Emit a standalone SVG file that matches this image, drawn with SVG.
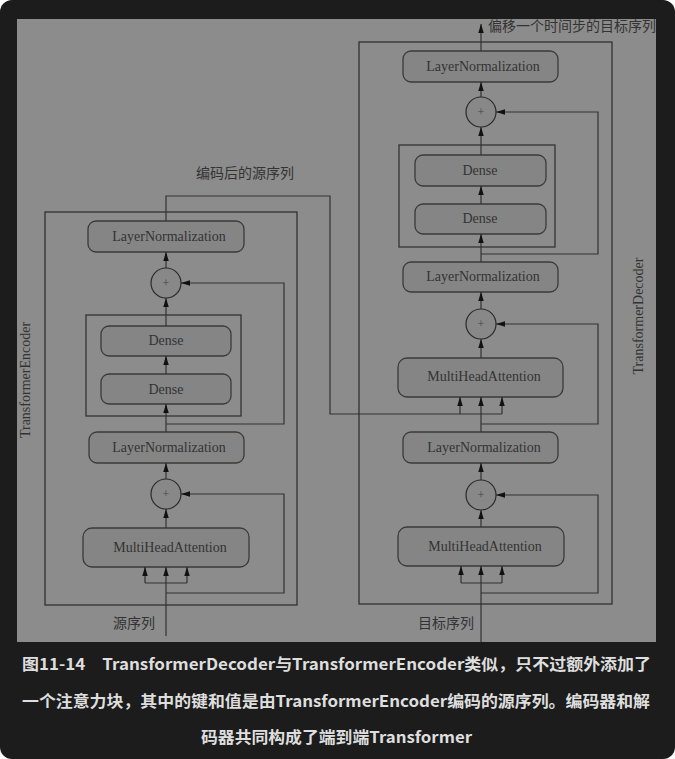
<svg xmlns="http://www.w3.org/2000/svg" width="675" height="759" viewBox="0 0 675 759">
<defs>
<marker id="ah" markerUnits="userSpaceOnUse" markerWidth="10" markerHeight="6" refX="9" refY="2.75" orient="auto">
<path d="M0,0 L9,2.75 L0,5.5 z" fill="#111"/>
</marker>
<style>
.box{fill:none;stroke:#2a2a2a;stroke-width:1.2}
.grp{fill:none;stroke:#333;stroke-width:1.3}
.node{fill:#858585;stroke:#3a3a3a;stroke-width:1.3}
.circ{fill:#888;stroke:#2a2a2a;stroke-width:1.2}
.nt{font-family:"Liberation Serif",serif;font-size:14px;fill:#333;text-anchor:middle}
.pl{font-family:"Liberation Serif",serif;font-size:12px;fill:#444;text-anchor:middle}
.lbl{font-family:"Liberation Serif","Noto Sans CJK SC",serif;font-size:14px;fill:#333}
.cap{font-family:"Noto Sans CJK SC",sans-serif;font-size:16px;font-weight:bold;fill:#dedede}
.cn path{fill:none;stroke:#333;stroke-width:1.2}
.cn .a{marker-end:url(#ah)}
</style>
</defs>
<rect x="0" y="0" width="675" height="759" fill="#ffffff"/>
<rect x="0" y="0" width="675" height="759" rx="12" fill="#1c1c1c"/>
<rect x="17" y="19" width="639" height="623" fill="#8c8c8c"/>

<g id="encoder">
<rect class="box" x="45" y="212" width="252" height="393"/>
<text class="nt" transform="translate(30,380) rotate(-90)">TransformerEncoder</text>
</g>
<g id="decoder">
<rect class="box" x="359" y="42" width="253" height="562"/>
<text class="nt" transform="translate(643,316) rotate(-90)">TransformerDecoder</text>
</g>

<g id="enc-ffn"><rect class="grp" x="86" y="315" width="155" height="101"/></g>
<g id="dec-ffn"><rect class="grp" x="399" y="145" width="156" height="102"/></g>

<g id="enc-mha"><rect class="node" x="83" y="528" width="166" height="39" rx="9"/><text class="nt" x="170" y="552">MultiHeadAttention</text></g>
<g id="enc-add1"><circle class="circ" cx="166" cy="494" r="15"/><text class="pl" x="166" y="498">+</text></g>
<g id="enc-ln1"><rect class="node" x="89" y="432" width="155" height="31" rx="8"/><text class="nt" x="169" y="452">LayerNormalization</text></g>
<g id="enc-dense1"><rect class="node" x="101" y="374" width="130" height="30" rx="8"/><text class="nt" x="166" y="394">Dense</text></g>
<g id="enc-dense2"><rect class="node" x="101" y="326" width="130" height="30" rx="8"/><text class="nt" x="166" y="345">Dense</text></g>
<g id="enc-add2"><circle class="circ" cx="166" cy="283" r="15"/><text class="pl" x="166" y="287">+</text></g>
<g id="enc-ln2"><rect class="node" x="88" y="221" width="156" height="31" rx="8"/><text class="nt" x="169" y="241">LayerNormalization</text></g>

<g id="dec-mha1"><rect class="node" x="398" y="527" width="166" height="39" rx="9"/><text class="nt" x="485" y="551">MultiHeadAttention</text></g>
<g id="dec-add1"><circle class="circ" cx="481" cy="495" r="15"/><text class="pl" x="481" y="499">+</text></g>
<g id="dec-ln1"><rect class="node" x="403" y="432" width="155" height="31" rx="8"/><text class="nt" x="484" y="452">LayerNormalization</text></g>
<g id="dec-mha2"><rect class="node" x="398" y="358" width="165" height="39" rx="9"/><text class="nt" x="484" y="381">MultiHeadAttention</text></g>
<g id="dec-add2"><circle class="circ" cx="481" cy="324" r="15"/><text class="pl" x="481" y="328">+</text></g>
<g id="dec-ln2"><rect class="node" x="403" y="262" width="155" height="30" rx="8"/><text class="nt" x="483" y="281">LayerNormalization</text></g>
<g id="dec-dense1"><rect class="node" x="415" y="204" width="131" height="30" rx="8"/><text class="nt" x="480" y="223">Dense</text></g>
<g id="dec-dense2"><rect class="node" x="415" y="155" width="131" height="31" rx="8"/><text class="nt" x="480" y="175">Dense</text></g>
<g id="dec-add3"><circle class="circ" cx="481" cy="112" r="15"/><text class="pl" x="481" y="116">+</text></g>
<g id="dec-ln3"><rect class="node" x="403" y="51" width="155" height="31" rx="8"/><text class="nt" x="483" y="71">LayerNormalization</text></g>

<g id="labels">
<text class="lbl" x="113" y="628">源序列</text>
<text class="lbl" x="418" y="628">目标序列</text>
<text class="lbl" x="196" y="178">编码后的源序列</text>
<text class="lbl" x="488" y="31">偏移一个时间步的目标序列</text>
</g>

<g class="cn" id="connectors">
<path class="a" d="M166,636 V567"/>
<path d="M145,583 H187"/>
<path class="a" d="M145,583 V567"/>
<path class="a" d="M187,583 V567"/>
<path class="a" d="M166,593 H284 V494 H181"/>
<path class="a" d="M166,528 V509"/>
<path class="a" d="M166,479 V463"/>
<path class="a" d="M166,432 V404"/>
<path class="a" d="M166,424 H284 V283 H181"/>
<path class="a" d="M166,374 V356"/>
<path class="a" d="M166,326 V298"/>
<path class="a" d="M166,268 V252"/>
<path d="M166,221 V196 H330 V414 H502"/>
<path class="a" d="M460,414 V397"/>
<path class="a" d="M502,414 V397"/>

<path class="a" d="M481,642 V566"/>
<path d="M461,583 H502"/>
<path class="a" d="M461,583 V566"/>
<path class="a" d="M502,583 V566"/>
<path class="a" d="M481,593 H598 V495 H496"/>
<path class="a" d="M481,527 V510"/>
<path class="a" d="M481,480 V463"/>
<path class="a" d="M481,432 V397"/>
<path class="a" d="M481,424 H598 V324 H496"/>
<path class="a" d="M481,358 V339"/>
<path class="a" d="M481,309 V292"/>
<path class="a" d="M481,262 V234"/>
<path class="a" d="M481,254 H598 V112 H496"/>
<path class="a" d="M481,204 V186"/>
<path class="a" d="M481,155 V127"/>
<path class="a" d="M481,97 V82"/>
<path class="a" d="M481,51 V24"/>
</g>

<g id="caption">
<text class="cap" x="22" y="670" textLength="629" lengthAdjust="spacingAndGlyphs">图11-14　TransformerDecoder与TransformerEncoder类似，只不过额外添加了</text>
<text class="cap" x="22" y="707" textLength="628" lengthAdjust="spacingAndGlyphs">一个注意力块，其中的键和值是由TransformerEncoder编码的源序列。编码器和解</text>
<text class="cap" x="201" y="743" textLength="271" lengthAdjust="spacingAndGlyphs">码器共同构成了端到端Transformer</text>
</g>
</svg>
